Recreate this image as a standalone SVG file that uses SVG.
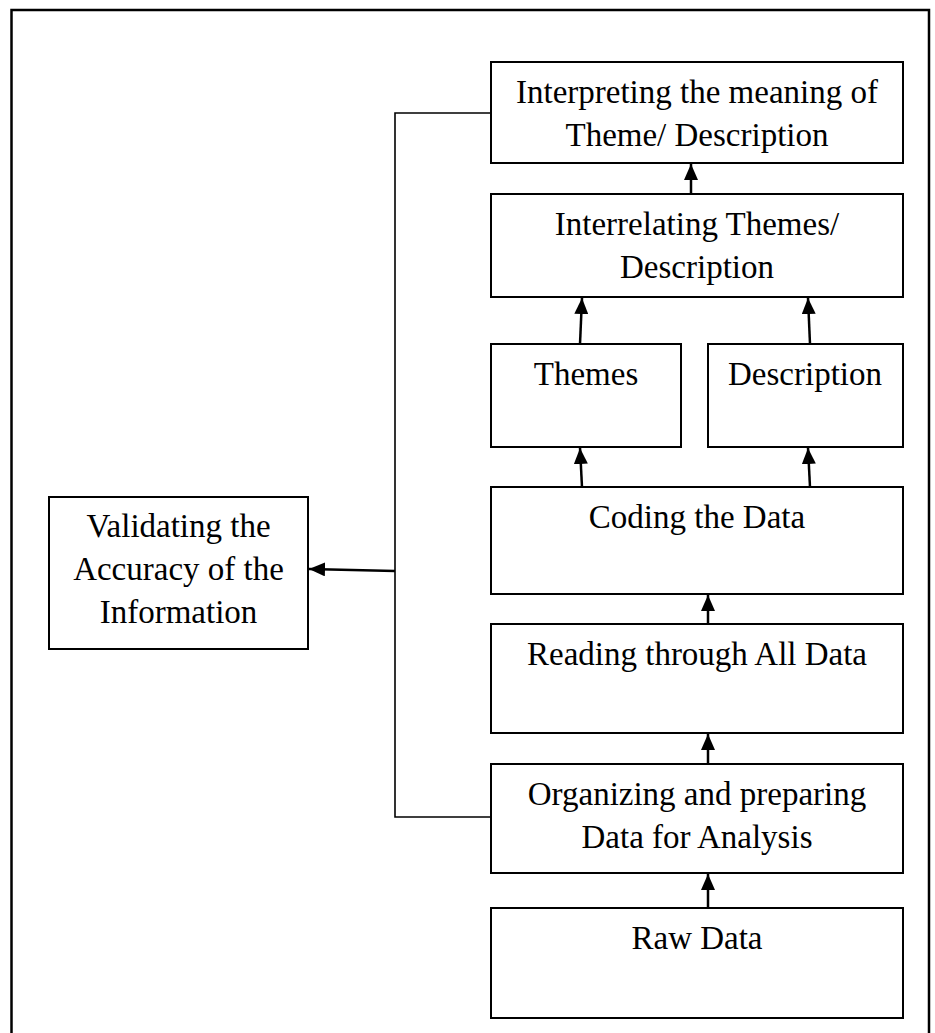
<svg xmlns="http://www.w3.org/2000/svg" width="935" height="1033" viewBox="0 0 935 1033">
<style>
.box{fill:#fff;stroke:#000;stroke-width:2}
.t{font-family:"Liberation Serif","Times New Roman",serif;font-size:33px;fill:#000;text-anchor:middle}
.arr{stroke:#000;stroke-width:2.5;fill:none;marker-end:url(#ah)}
.ln{stroke:#000;stroke-width:1.6;fill:none}
</style>
<defs>
<marker id="ah" markerUnits="userSpaceOnUse" viewBox="0 0 16 14" markerWidth="16" markerHeight="14" refX="16" refY="7" orient="auto">
<path d="M0,0 L16,7 L0,14 z" fill="#000"/>
</marker>
</defs>
<rect width="935" height="1033" fill="#fff"/>
<path d="M11.5,1040 L11.5,10 L929,10 L929,1040" fill="none" stroke="#000" stroke-width="2.5"/>

<g id="interpreting">
<rect class="box" x="491" y="62" width="412" height="101"/>
<text class="t" x="697" y="103">Interpreting the meaning of</text>
<text class="t" x="697" y="146">Theme/ Description</text>
</g>
<g id="interrelating">
<rect class="box" x="491" y="194" width="412" height="103"/>
<text class="t" x="697" y="235">Interrelating Themes/</text>
<text class="t" x="697" y="278">Description</text>
</g>
<g id="themes">
<rect class="box" x="491" y="344" width="190" height="103"/>
<text class="t" x="586" y="385">Themes</text>
</g>
<g id="description">
<rect class="box" x="708" y="344" width="195" height="103"/>
<text class="t" x="805" y="385">Description</text>
</g>
<g id="coding">
<rect class="box" x="491" y="487" width="412" height="107"/>
<text class="t" x="697" y="528">Coding the Data</text>
</g>
<g id="reading">
<rect class="box" x="491" y="624" width="412" height="109"/>
<text class="t" x="697" y="665">Reading through All Data</text>
</g>
<g id="organizing">
<rect class="box" x="491" y="764" width="412" height="109"/>
<text class="t" x="697" y="805">Organizing and preparing</text>
<text class="t" x="697" y="848">Data for Analysis</text>
</g>
<g id="raw">
<rect class="box" x="491" y="908" width="412" height="110"/>
<text class="t" x="697" y="949">Raw Data</text>
</g>
<g id="validating">
<rect class="box" x="49" y="497" width="259" height="152"/>
<text class="t" x="178.5" y="537">Validating the</text>
<text class="t" x="178.5" y="580">Accuracy of the</text>
<text class="t" x="178.5" y="623">Information</text>
</g>

<g id="connectors">
<polyline class="ln" points="491,113 395,113 395,817 491,817"/>
<line class="arr" x1="691" y1="194" x2="691" y2="164"/>
<line class="arr" x1="580" y1="344" x2="582" y2="298"/>
<line class="arr" x1="810" y1="344" x2="808" y2="298"/>
<line class="arr" x1="582" y1="487" x2="580" y2="448"/>
<line class="arr" x1="810" y1="487" x2="808" y2="448"/>
<line class="arr" x1="708" y1="624" x2="708" y2="595"/>
<line class="arr" x1="708" y1="764" x2="708" y2="734"/>
<line class="arr" x1="708" y1="908" x2="708" y2="874"/>
<line class="arr" x1="395" y1="571" x2="309" y2="569"/>
</g>
</svg>
